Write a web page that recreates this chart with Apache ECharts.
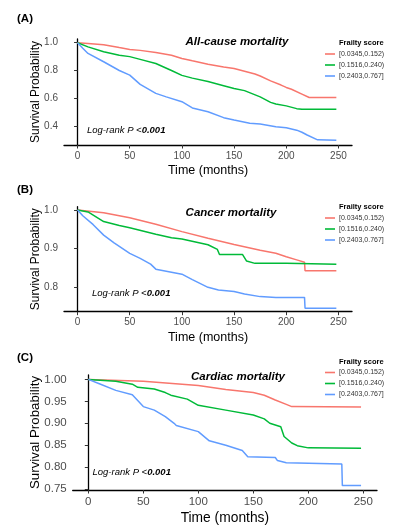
<!DOCTYPE html>
<html>
<head>
<meta charset="utf-8">
<script src="https://cdn.jsdelivr.net/npm/echarts@6/dist/echarts.min.js"></script>
<style>
  html, body { margin: 0; padding: 0; background: #fff; }
  #main { width: 411px; height: 532px; }
</style>
</head>
<body>
<div id="main"></div>
<script>
// group labels
var groups = ['[0.0345,0.152)', '[0.1516,0.240)', '[0.2403,0.767]'];
var colors = ['#F8766D', '#00BA38', '#619CFF'];

// tick values
var monthTicks = [0, 50, 100, 150, 200, 250];
var ticksA = [0.4, 0.6, 0.8, 1.0];
var ticksB = [0.8, 0.9, 1.0];
var ticksC = [0.75, 0.80, 0.85, 0.90, 0.95, 1.00];

// (A) all-cause mortality  [month, survival]
var allLow = [[0,1],[10,0.995],[25,0.985],[40,0.965],[50,0.952],[60,0.945],[75,0.93],[90,0.91],[100,0.887],[110,0.87],[125,0.845],[140,0.825],[150,0.815],[160,0.795],[170,0.775],[175,0.76],[185,0.725],[195,0.695],[200,0.678],[205,0.665],[215,0.63],[222,0.605],[248,0.605]];
var allMid = [[0,1],[10,0.97],[25,0.935],[40,0.91],[50,0.90],[60,0.88],[75,0.85],[90,0.80],[100,0.765],[110,0.745],[125,0.72],[140,0.69],[150,0.67],[160,0.655],[175,0.61],[185,0.57],[190,0.558],[200,0.545],[210,0.525],[215,0.52],[248,0.52]];
var allHigh = [[0,1],[5,0.96],[10,0.923],[25,0.863],[40,0.80],[50,0.767],[60,0.70],[75,0.635],[85,0.61],[100,0.575],[110,0.53],[125,0.503],[140,0.46],[150,0.443],[165,0.42],[175,0.415],[190,0.395],[200,0.388],[210,0.37],[215,0.355],[220,0.335],[230,0.30],[248,0.298]];

// (B) cancer mortality
var canLow = [[0,1],[25,0.993],[50,0.98],[75,0.963],[100,0.944],[125,0.927],[150,0.911],[175,0.896],[190,0.888],[200,0.879],[210,0.871],[217.5,0.865],[218,0.843],[248,0.843]];
var canMid = [[0,1],[10,0.995],[25,0.97],[40,0.96],[50,0.954],[75,0.937],[90,0.928],[100,0.925],[125,0.91],[134,0.898],[136,0.885],[158,0.885],[162,0.868],[170,0.862],[200,0.862],[248,0.86]];
var canHigh = [[0,1],[5,0.985],[15,0.962],[25,0.935],[35,0.915],[50,0.888],[60,0.875],[70,0.86],[75,0.847],[100,0.834],[110,0.82],[125,0.80],[135,0.793],[150,0.789],[160,0.783],[175,0.776],[190,0.774],[217.5,0.774],[218,0.746],[248,0.746]];

// (C) cardiac mortality
var carLow = [[0,1],[50,0.996],[100,0.986],[125,0.977],[150,0.97],[160,0.964],[170,0.953],[180,0.943],[185,0.938],[248,0.937]];
var carMid = [[0,1],[25,0.996],[40,0.989],[45,0.982],[60,0.978],[70,0.97],[75,0.964],[90,0.955],[100,0.941],[125,0.93],[150,0.919],[160,0.91],[165,0.90],[175,0.892],[178,0.87],[185,0.855],[190,0.849],[200,0.844],[248,0.843]];
var carHigh = [[0,1],[10,0.99],[25,0.975],[40,0.965],[50,0.938],[60,0.93],[70,0.915],[78,0.90],[80,0.895],[100,0.881],[110,0.86],[125,0.85],[140,0.838],[145,0.824],[170,0.822],[172,0.815],[180,0.81],[230.5,0.807],[231,0.758],[248,0.758]];

var font = 'Liberation Sans';

var panels = [
  { label: '(A)', labelTop: 19, title: 'All-cause mortality', titleX: 237, titleY: 42,
    grid: { left: 64, top: 39, width: 288, height: 106 }, xMin: -13, xMax: 263,
    yMin: 0.263, yMax: 1.027, yTicks: ticksA, dec: 1, tickFont: 10, nameFont: 12, yGap: 22.5, xGap: 19,
    legendTop: 50.5, legendTitleY: 43, pX: 87, pY: 130,
    data: [allLow, allMid, allHigh] },
  { label: '(B)', labelTop: 190, title: 'Cancer mortality', titleX: 231, titleY: 212.7,
    grid: { left: 64, top: 206.7, width: 288, height: 105 }, xMin: -13, xMax: 263,
    yMin: 0.737, yMax: 1.0085, yTicks: ticksB, dec: 1, tickFont: 10, nameFont: 12, yGap: 22.5, xGap: 19,
    legendTop: 214.5, legendTitleY: 207.3, pX: 92, pY: 293.3,
    data: [canLow, canMid, canHigh] },
  { label: '(C)', labelTop: 358, title: 'Cardiac mortality', titleX: 238, titleY: 377.3,
    grid: { left: 72.7, top: 375, width: 304.3, height: 115 }, xMin: -14.2, xMax: 262.5,
    yMin: 0.748, yMax: 1.010, yTicks: ticksC, dec: 2, tickFont: 11.5, nameFont: 13.3, yGap: 30.5, xGap: 21,
    legendTop: 369, legendTitleY: 361.7, pX: 92.5, pY: 472.7,
    data: [carLow, carMid, carHigh] }
];

var grids = [], xAxes = [], yAxes = [], series = [], titles = [], legends = [];

panels.forEach(function (p, i) {
  grids.push(p.grid);
  xAxes.push({
    type: 'value', gridIndex: i, min: p.xMin, max: p.xMax,
    name: 'Time (months)', nameLocation: 'middle', nameGap: p.xGap,
    nameTextStyle: { fontFamily: font, fontSize: p.nameFont + 0.5, color: '#000' },
    splitLine: { show: false },
    axisLine: { lineStyle: { color: '#000', width: 1.3 } },
    axisTick: { customValues: monthTicks, length: 3.5, lineStyle: { color: '#333' } },
    axisLabel: { customValues: monthTicks, margin: 6, fontFamily: font, fontSize: p.tickFont, color: '#4d4d4d' }
  });
  yAxes.push({
    type: 'value', gridIndex: i, min: p.yMin, max: p.yMax,
    name: 'Survival Probability', nameLocation: 'middle', nameGap: p.yGap, nameMoveOverlap: false,
    nameTextStyle: { fontFamily: font, fontSize: p.nameFont, color: '#000' },
    splitLine: { show: false },
    axisLine: { show: true, lineStyle: { color: '#000', width: 1.3 } },
    axisTick: { show: true, customValues: p.yTicks, length: 3.5, lineStyle: { color: '#333' } },
    axisLabel: { customValues: p.yTicks, margin: 6, fontFamily: font, fontSize: p.tickFont, color: '#4d4d4d',
      formatter: function (v) { return v.toFixed(p.dec); } }
  });
  p.data.forEach(function (d, k) {
    series.push({
      name: groups[k], type: 'line', xAxisIndex: i, yAxisIndex: i,
      data: d, showSymbol: false, symbol: 'none', silent: true,
      lineStyle: { color: colors[k], width: 1.5 }, itemStyle: { color: colors[k] }
    });
  });
  titles.push({ text: p.label, left: 17, top: p.labelTop, padding: 0, textVerticalAlign: 'middle',
    textStyle: { fontFamily: font, fontSize: 11.5, fontWeight: 'bold', color: '#000' } });
  titles.push({ text: p.title, left: p.titleX, top: p.titleY, padding: 0, textAlign: 'center', textVerticalAlign: 'middle',
    textStyle: { fontFamily: font, fontSize: 11.5, fontWeight: 'bold', fontStyle: 'italic', color: '#000' } });
  titles.push({ text: 'Frailty score', left: 339, top: p.legendTitleY, padding: 0, textVerticalAlign: 'middle',
    textStyle: { fontFamily: font, fontSize: 7.5, fontWeight: 'bold', color: '#000' } });
  titles.push({ text: '{a|Log-rank P <}{b|0.001}', left: p.pX, top: p.pY, padding: 0, textVerticalAlign: 'middle',
    textStyle: { rich: {
      a: { fontFamily: font, fontSize: 9.5, fontStyle: 'italic', fontWeight: 'normal', color: '#000' },
      b: { fontFamily: font, fontSize: 9.5, fontStyle: 'italic', fontWeight: 'bold', color: '#000' } } } });
  legends.push({
    data: groups, orient: 'vertical', left: 325, top: p.legendTop, padding: 0,
    icon: 'rect', itemWidth: 10, itemHeight: 1.6, itemGap: 4, selectedMode: false,
    textStyle: { fontFamily: font, fontSize: 7, color: '#333', padding: [0, 0, 0, -1] }
  });
});

var chart = echarts.init(document.getElementById('main'));
chart.setOption({
  animation: false,
  backgroundColor: '#fff',
  title: titles,
  legend: legends,
  grid: grids,
  xAxis: xAxes,
  yAxis: yAxes,
  series: series
});
</script>
</body>
</html>
